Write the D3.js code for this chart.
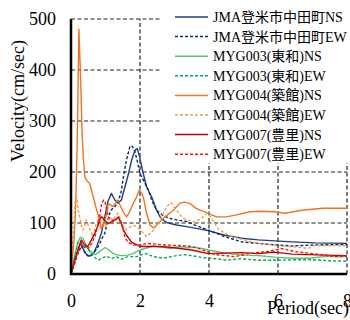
<!DOCTYPE html>
<html>
<head>
<meta charset="utf-8">
<script src="https://cdn.jsdelivr.net/npm/d3@7"></script>
<style>
  body { margin: 0; background: #fff; }
  svg text { font-family: "Liberation Serif", "Times New Roman", "Noto Sans CJK JP", serif; fill: #000; }
</style>
</head>
<body>
<div id="chart"></div>
<script>
// period (sec), velocity (cm/sec)
const jmaNS = [[0,0],[0.1,25],[0.2,45],[0.28,62],[0.35,50],[0.45,38],[0.55,35],[0.65,40],[0.75,55],[0.88,80],[0.98,112],[1.07,142],[1.17,158],[1.27,145],[1.36,139],[1.46,145],[1.56,170],[1.66,195],[1.76,224],[1.86,243],[1.92,246],[1.98,232],[2.08,201],[2.19,171],[2.34,151],[2.48,125],[2.6,110],[2.77,101],[3.06,96],[3.35,93],[3.59,90],[3.98,85],[4.46,76],[4.95,70],[5.43,67],[5.91,65],[6.4,63],[7.07,61],[8,60]];
const jmaEW = [[0,0],[0.1,20],[0.2,40],[0.3,55],[0.4,42],[0.5,35],[0.6,38],[0.7,45],[0.8,55],[0.9,70],[0.98,80],[1.05,100],[1.12,119],[1.2,128],[1.27,132],[1.36,140],[1.45,160],[1.52,191],[1.61,224],[1.71,251],[1.78,250],[1.85,240],[1.92,222],[2.0,197],[2.1,184],[2.24,165],[2.34,145],[2.48,125],[2.68,114],[2.87,109],[3.06,106],[3.35,103],[3.59,96],[3.98,86],[4.46,73],[4.95,63],[5.43,60],[5.91,57],[6.4,55],[7.07,57],[8,58]];
const myg003NS = [[0,0],[0.1,35],[0.2,62],[0.27,72],[0.35,70],[0.45,55],[0.55,45],[0.7,38],[0.85,45],[0.99,52],[1.08,48],[1.18,42],[1.3,38],[1.47,36],[1.65,37],[1.8,40],[1.9,44],[2.0,47],[2.19,51],[2.39,55],[2.6,54],[2.87,50],[3.16,54],[3.4,52],[3.59,53],[3.98,47],[4.46,41],[4.95,37],[5.43,36],[5.91,33],[6.4,31],[6.9,31],[7.3,34],[8,34]];
const myg003EW = [[0,0],[0.1,30],[0.2,62],[0.3,60],[0.4,55],[0.5,48],[0.59,40],[0.7,32],[0.78,27],[0.88,30],[1.02,35],[1.17,30],[1.31,34],[1.46,29],[1.6,33],[1.71,34],[1.9,34],[2.05,38],[2.19,40],[2.39,34],[2.68,31],[2.97,35],[3.26,38],[3.5,36],[3.83,32],[4.2,30],[4.5,27],[4.9,30],[5.43,27],[6.0,27],[6.5,28],[7.0,28],[7.5,26],[8,25]];
const myg004NS = [[0,0],[0.08,60],[0.13,120],[0.18,260],[0.23,480],[0.28,380],[0.32,280],[0.36,225],[0.4,190],[0.47,182],[0.54,178],[0.64,152],[0.73,129],[0.83,106],[0.88,88],[0.95,100],[1.03,116],[1.08,138],[1.15,135],[1.22,132],[1.3,140],[1.36,145],[1.46,129],[1.53,120],[1.61,112],[1.7,122],[1.76,132],[1.9,151],[1.98,165],[2.05,158],[2.1,150],[2.19,119],[2.29,96],[2.39,90],[2.53,99],[2.72,112],[2.97,125],[3.16,139],[3.3,141],[3.45,138],[3.64,128],[3.98,119],[4.22,112],[4.5,112],[4.8,116],[5.19,122],[5.5,123],[5.91,122],[6.2,119],[6.69,125],[7.3,129],[8,129]];
const myg004EW = [[0,0],[0.06,70],[0.12,148],[0.17,150],[0.21,125],[0.25,112],[0.3,95],[0.35,86],[0.44,106],[0.54,89],[0.64,73],[0.73,99],[0.83,112],[0.9,110],[1.02,93],[1.12,112],[1.22,105],[1.3,115],[1.36,119],[1.45,105],[1.56,86],[1.7,92],[1.85,95],[2.0,88],[2.19,73],[2.39,86],[2.58,106],[2.77,132],[2.9,140],[3.06,125],[3.21,112],[3.35,106],[3.59,102],[3.79,110],[3.95,119],[4.05,112],[4.27,88],[4.56,76],[4.95,68],[5.43,60],[5.91,57],[6.3,54],[6.69,52],[6.87,50],[7.07,56],[7.5,56],[8,55]];
const myg007NS = [[0,0],[0.1,25],[0.2,47],[0.3,67],[0.4,57],[0.49,54],[0.59,67],[0.69,80],[0.78,95],[0.85,110],[0.9,112],[0.98,105],[1.08,99],[1.18,102],[1.28,106],[1.37,112],[1.46,99],[1.52,86],[1.61,76],[1.76,62],[1.95,56],[2.1,54],[2.4,54],[2.8,53],[3.16,50],[3.5,47],[3.98,40],[4.46,41],[4.95,42],[5.43,40],[5.91,43],[6.4,39],[6.9,38],[7.36,37],[8,36]];
const myg007EW = [[0,0],[0.1,20],[0.2,42],[0.3,60],[0.4,52],[0.5,50],[0.6,60],[0.7,75],[0.8,100],[0.89,139],[0.95,145],[0.99,140],[1.08,112],[1.18,105],[1.28,106],[1.37,110],[1.45,100],[1.52,86],[1.57,70],[1.66,62],[1.81,57],[2.0,56],[2.19,60],[2.4,59],[2.7,57],[3.0,56],[3.4,55],[3.79,48],[4.17,38],[4.75,34],[5.14,40],[5.72,44],[6.1,50],[6.49,44],[7.0,40],[7.65,34],[8,35]];

const seriesNames = ["JMA登米市中田町NS","JMA登米市中田町EW","MYG003(東和)NS","MYG003(東和)EW","MYG004(築館)NS","MYG004(築館)EW","MYG007(豊里)NS","MYG007(豊里)EW"];
const seriesData = [jmaNS, jmaEW, myg003NS, myg003EW, myg004NS, myg004EW, myg007NS, myg007EW];
const seriesColors = ["#1f3f80","#0a2a6e","#52c875","#00b050","#ee7420","#f4a04a","#c00000","#ff1010"];
const seriesDashed = [false,true,false,true,false,true,false,true];

const xTicks = [0,2,4,6,8];
const yTicks = [0,100,200,300,400,500];

const width = 350, height = 320;
const margin = {top: 19, right: 3, bottom: 46, left: 71};

const svg = d3.select("#chart").append("svg")
    .attr("width", width)
    .attr("height", height);

const x = d3.scaleLinear().domain([0, 8]).range([margin.left, width - margin.right]);
const y = d3.scaleLinear().domain([0, 500]).range([height - margin.bottom, margin.top]);

// gridlines (dashed)
const grid = svg.append("g").attr("class", "grid");
grid.selectAll(".hgrid")
    .data(yTicks.filter(d => d > 0))
    .enter().append("line")
    .attr("x1", x(0)).attr("x2", x(8))
    .attr("y1", d => y(d)).attr("y2", d => y(d));
grid.selectAll(".vgrid")
    .data(xTicks.filter(d => d > 0))
    .enter().append("line")
    .attr("x1", d => x(d)).attr("x2", d => x(d))
    .attr("y1", y(0)).attr("y2", y(500));
grid.selectAll("line")
    .attr("stroke", "#222")
    .attr("stroke-width", 1.2)
    .attr("stroke-dasharray", "4,2.5");

// clip for curves
svg.append("clipPath").attr("id", "plotclip")
    .append("rect")
    .attr("x", x(0)).attr("y", y(500) - 2)
    .attr("width", x(8) - x(0) + 1).attr("height", y(0) - y(500) + 2);

const line = d3.line()
    .x(d => x(d[0]))
    .y(d => y(d[1]));

svg.append("g").attr("clip-path", "url(#plotclip)")
    .selectAll("path")
    .data(seriesData)
    .enter().append("path")
    .attr("d", d => line(d))
    .attr("fill", "none")
    .attr("stroke", (d, i) => seriesColors[i])
    .attr("stroke-width", 1.4)
    .attr("stroke-linejoin", "round")
    .attr("stroke-dasharray", (d, i) => seriesDashed[i] ? "3,2" : null);

// legend box sits over the plot
const legend = svg.append("g").attr("class", "legend");
legend.append("rect")
    .attr("x", 160).attr("y", 0)
    .attr("width", 190).attr("height", 163)
    .attr("fill", "#fff");
const rows = legend.selectAll(".row")
    .data(seriesNames)
    .enter().append("g")
    .attr("transform", (d, i) => "translate(175," + (17 + i * 19.6) + ")");
rows.append("line")
    .attr("x1", 0).attr("x2", 33)
    .attr("stroke", (d, i) => seriesColors[i])
    .attr("stroke-width", 1.5)
    .attr("stroke-dasharray", (d, i) => seriesDashed[i] ? "3,2" : null);
rows.append("text")
    .attr("x", 38).attr("y", 5)
    .style("font-size", "14px")
    .text(d => d);

// axis lines
svg.append("line")
    .attr("x1", x(0)).attr("x2", x(0))
    .attr("y1", y(500)).attr("y2", y(0) + 1)
    .attr("stroke", "#000").attr("stroke-width", 2.5);
svg.append("line")
    .attr("x1", x(0) - 1).attr("x2", x(8))
    .attr("y1", y(0)).attr("y2", y(0))
    .attr("stroke", "#000").attr("stroke-width", 2.5);

// tick labels
const yAxis = svg.append("g")
    .attr("transform", "translate(" + x(0) + ",0)")
    .call(d3.axisLeft(y).tickValues(yTicks).tickSize(0).tickPadding(15));
yAxis.select(".domain").remove();
yAxis.selectAll("text").style("font-size", "18px").style("font-family", "'Liberation Serif', serif");

const xAxis = svg.append("g")
    .attr("transform", "translate(0," + y(0) + ")")
    .call(d3.axisBottom(x).tickValues(xTicks).tickSize(0).tickPadding(20));
xAxis.select(".domain").remove();
xAxis.selectAll("text").style("font-size", "18px").style("font-family", "'Liberation Serif', serif");

// axis titles
svg.append("text")
    .attr("transform", "translate(24,101) rotate(-90)")
    .attr("text-anchor", "middle")
    .style("font-size", "18px")
    .text("Velocity(cm/sec)");

svg.append("text")
    .attr("x", 349).attr("y", 314)
    .attr("text-anchor", "end")
    .style("font-size", "18px")
    .text("Period(sec)");
</script>
</body>
</html>
